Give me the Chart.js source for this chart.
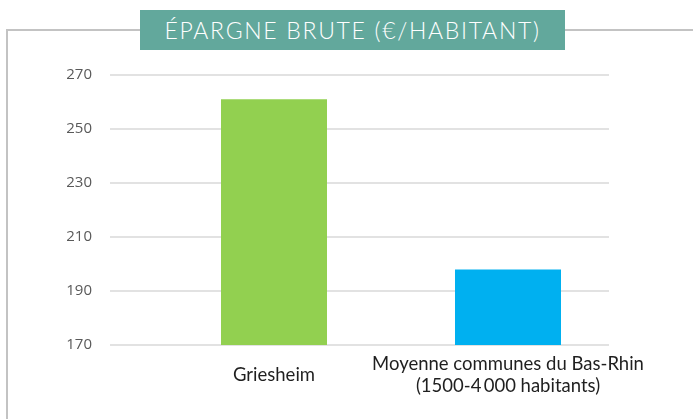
<!DOCTYPE html>
<html>
<head>
<meta charset="utf-8">
<script src="https://cdn.jsdelivr.net/npm/chart.js@4"></script>
<style>
  html, body { margin: 0; padding: 0; background: #fff; }
  #wrap { position: relative; width: 693px; height: 419px; overflow: hidden; }
  #frame {
    position: absolute; left: 6px; top: 29px; width: 700px; height: 400px;
    border-left: 2px solid #c3c3c3; border-top: 2px solid #c3c3c3;
  }
  #title {
    position: absolute; left: 140px; top: 10px; width: 425px; height: 40px;
    background: #62a89c; color: #fff;
    font-family: Lato, sans-serif; font-weight: 300; font-size: 23px; letter-spacing: 1.7px;
    line-height: 41px; text-align: center;
  }
  canvas { position: absolute; left: 0; top: 0; }
</style>
</head>
<body>
<div id="wrap">
  <div id="frame"></div>
  <div id="title">ÉPARGNE BRUTE (€/HABITANT)</div>
  <canvas id="myChart" width="693" height="419"></canvas>
</div>
<script>
const categories = ['Griesheim', ['Moyenne communes du Bas-Rhin', '(1500-4\u2009000 habitants)']];
const values = [261, 198];
const barColors = ['#92d050', '#00b0f0'];
const yTicks = [170, 190, 210, 230, 250, 270];

// gridlines in the original run wider on the left than the bars' category area
const sideGrid = {
    id: 'sideGrid',
    beforeDatasetsDraw(chart) {
        const y = chart.scales.y;
        const ctx = chart.ctx;
        ctx.save();
        ctx.strokeStyle = '#d9d9d9';
        ctx.lineWidth = 1.5;
        y.ticks.forEach(t => {
            const py = y.getPixelForValue(t.value);
            ctx.beginPath();
            ctx.moveTo(110, py);
            ctx.lineTo(609, py);
            ctx.stroke();
        });
        ctx.restore();
    }
};

const ctx = document.getElementById('myChart').getContext('2d');

const myChart = new Chart(ctx, {
    type: 'bar',
    data: {
        labels: categories,
        datasets: [{
            data: values,
            backgroundColor: barColors,
            borderWidth: 0,
            barPercentage: 0.453,
            categoryPercentage: 1
        }]
    },
    options: {
        responsive: false,
        animation: false,
        layout: {
            padding: { left: 67, right: 68, top: 75, bottom: 0 }
        },
        plugins: {
            legend: { display: false },
            tooltip: { enabled: false }
        },
        scales: {
            x: {
                grid: { display: false, drawTicks: false },
                border: { display: false },
                afterFit: s => { s.height = 73; },
                ticks: {
                    padding: 19,
                    maxRotation: 0,
                    autoSkip: false,
                    crossAlign: 'center',
                    color: '#1f1f1f',
                    font: { family: 'Lato', size: 18.5, lineHeight: 1.2 }
                }
            },
            y: {
                min: 170,
                max: 270,
                afterBuildTicks: s => { s.ticks = yTicks.map(v => ({ value: v })); },
                afterFit: s => { s.width = 90; },
                grid: { display: false, drawTicks: false },
                border: { display: false },
                ticks: {
                    padding: 65,
                    color: '#595959',
                    font: { family: 'Open Sans', size: 15 }
                }
            }
        }
    },
    plugins: [sideGrid]
});
</script>
</body>
</html>
